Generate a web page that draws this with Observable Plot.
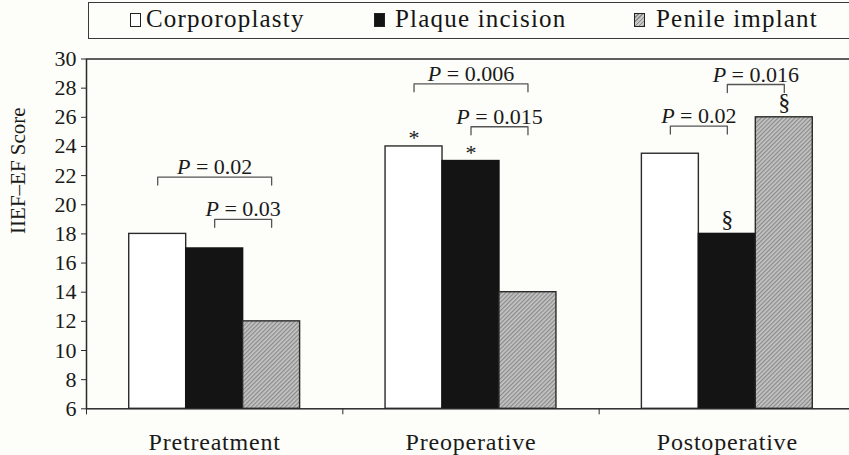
<!DOCTYPE html>
<html>
<head>
<meta charset="utf-8">
<script src="https://cdn.jsdelivr.net/npm/d3@7"></script>
<script src="https://cdn.jsdelivr.net/npm/@observablehq/plot@0.6"></script>
<style>
  html, body { margin: 0; padding: 0; background: #fdfdf9; overflow: hidden; }
  body { width: 849px; height: 455px; position: relative; font-family: "Liberation Serif", serif; }
  #chart { position: absolute; left: 0; top: 0; }
  #chart g[aria-label="x-axis tick label"] text { letter-spacing: 0.8px; }
  #legend { position: absolute; left: 88px; top: 2px; width: 800px; height: 35px;
            border: 1.5px solid #3a3a3a; background: #fdfdf9; }
  .item { position: absolute; top: 2px; font-size: 25px; color: #151515; white-space: nowrap; letter-spacing: 1.2px; }
  .sw { position: absolute; top: 10px; width: 11px; height: 14px; box-sizing: border-box; border: 1px solid #222; }
</style>
</head>
<body>
<div id="chart"></div>
<div id="legend"></div>
<script>
// ---- data ----
const groups = ["Pretreatment", "Preoperative", "Postoperative"];
const series = ["Corporoplasty", "Plaque incision", "Penile implant"];
const corporoplasty = [18, 24, 23.5];
const plaqueIncision = [17, 23, 18];
const penileImplant = [12, 14, 26];
const yTicks = [6, 8, 10, 12, 14, 16, 18, 20, 22, 24, 26, 28, 30];
const yLabel = "IIEF\u2013EF Score";

// significance brackets
const bracketGroup = [0, 0, 1, 1, 2, 2];
const bracketFrom = [0, 1, 0, 1, 0, 1];
const bracketTo = [2, 2, 2, 2, 1, 2];
const bracketY = [21.9, 19.0, 28.3, 25.35, 25.4, 28.25];
const bracketLabel = ["P = 0.02", "P = 0.03", "P = 0.006", "P = 0.015", "P = 0.02", "P = 0.016"];

// symbols above bars
const markGroup = [1, 1, 2, 2];
const markSeries = [0, 1, 1, 2];
const markSymbol = ["*", "*", "\u00a7", "\u00a7"];

// ---- layout helpers ----
const values = [corporoplasty, plaqueIncision, penileImplant];
const barW = 2 / 9;
const x1Of = (g, s) => g + 1 / 6 + s * barW;
const cOf = (g, s) => x1Of(g, s) + barW / 2;
const yMin = yTicks[0], yMax = yTicks[yTicks.length - 1];

const bars = series.map((name, s) => groups.map((g, gi) => ({group: g, gi, s, name, value: values[s][gi]})));

const bracketRows = bracketLabel.map((label, i) => ({
  id: i, label,
  xa: cOf(bracketGroup[i], bracketFrom[i]),
  xb: cOf(bracketGroup[i], bracketTo[i]),
  y: bracketY[i]
}));
const drop = 0.55;
const bracketPts = bracketRows.flatMap(b => [
  {id: b.id, x: b.xa, y: b.y - drop},
  {id: b.id, x: b.xa, y: b.y},
  {id: b.id, x: b.xb, y: b.y},
  {id: b.id, x: b.xb, y: b.y - drop}
]);
const markRows = markSymbol.map((sym, i) => ({
  sym, x: cOf(markGroup[i], markSeries[i]), y: values[markSeries[i]][markGroup[i]]
}));

const ink = "#2b2b2b";
const fills = ["#ffffff", "#141414", "url(#hatch)"];
const strokes = [ink, "#141414", ink];

const chart = Plot.plot({
  width: 849,
  height: 455,
  marginTop: 58.5,
  marginBottom: 46.7,
  marginLeft: 86,
  marginRight: -6,
  style: {fontFamily: "Liberation Serif, serif", background: "transparent", color: "#1a1a1a"},
  x: {type: "linear", domain: [0, 3]},
  y: {domain: [yMin, yMax]},
  marks: [
    ...bars.map((rows, s) => Plot.rect(rows, {
      x1: d => x1Of(d.gi, d.s), x2: d => x1Of(d.gi, d.s) + barW,
      y1: () => yMin, y2: "value",
      fill: fills[s], stroke: strokes[s], strokeWidth: 1.4
    })),
    Plot.frame({stroke: ink, strokeWidth: 1.5}),
    Plot.axisY({ticks: yTicks, tickSize: 5, tickPadding: 5, fontSize: 22, label: null, stroke: ink}),
    Plot.axisX({ticks: [0, 1, 2, 3], tickSize: 6, tickFormat: () => "", label: null, stroke: ink}),
    Plot.axisX({ticks: groups.map((g, i) => i + 0.5), tickSize: 0, tickPadding: 24, fontSize: 24,
      tickFormat: d => groups[Math.floor(d)], label: null}),
    Plot.text([yLabel], {text: d => d, frameAnchor: "left", rotate: -90, dx: -68, fontSize: 21, lineAnchor: "middle"}),
    Plot.line(bracketPts, {x: "x", y: "y", z: "id", stroke: "#555", strokeWidth: 1.3}),
    Plot.text(bracketRows, {x: d => (d.xa + d.xb) / 2, y: "y", text: "label", dy: -3, lineAnchor: "bottom",
      fontSize: 22, className: "pval"}),
    Plot.text(markRows.filter(d => d.sym === "*"), {x: "x", y: "y", text: "sym", dy: -1, lineAnchor: "bottom", fontSize: 22}),
    Plot.text(markRows.filter(d => d.sym !== "*"), {x: "x", y: "y", text: "sym", dy: -7, lineAnchor: "bottom", fontSize: 24})
  ]
});

// hatch pattern definition
const ns = "http://www.w3.org/2000/svg";
const defs = document.createElementNS(ns, "defs");
defs.innerHTML = '<pattern id="hatch" width="3" height="3" patternUnits="userSpaceOnUse" patternTransform="rotate(45)">' +
  '<rect width="3" height="3" fill="#c6c6c6"/><line x1="0.6" y1="0" x2="0.6" y2="3" stroke="#8a8a8a" stroke-width="1.3"/></pattern>';
chart.insertBefore(defs, chart.firstChild);

// italic P in p-value labels
chart.querySelectorAll(".pval text").forEach(t => {
  const s = t.textContent;
  if (s.startsWith("P")) {
    t.textContent = "";
    const ts = document.createElementNS(ns, "tspan");
    ts.setAttribute("font-style", "italic");
    ts.textContent = "P";
    t.appendChild(ts);
    t.appendChild(document.createTextNode(s.slice(1)));
  }
});

document.getElementById("chart").appendChild(chart);

// legend
const legendSwatchX = [41, 285, 545];
const legendTextX = [57, 306, 567];
const legendBg = ["#ffffff", "#141414", "repeating-linear-gradient(-45deg, #8a8a8a 0 1px, #c6c6c6 1px 3px)"];
const legend = document.getElementById("legend");
series.forEach((name, i) => {
  const sw = document.createElement("div");
  sw.className = "sw";
  sw.style.left = legendSwatchX[i] + "px";
  sw.style.background = legendBg[i];
  legend.appendChild(sw);
  const tx = document.createElement("div");
  tx.className = "item";
  tx.style.left = legendTextX[i] + "px";
  tx.textContent = name;
  legend.appendChild(tx);
});
</script>
</body>
</html>
